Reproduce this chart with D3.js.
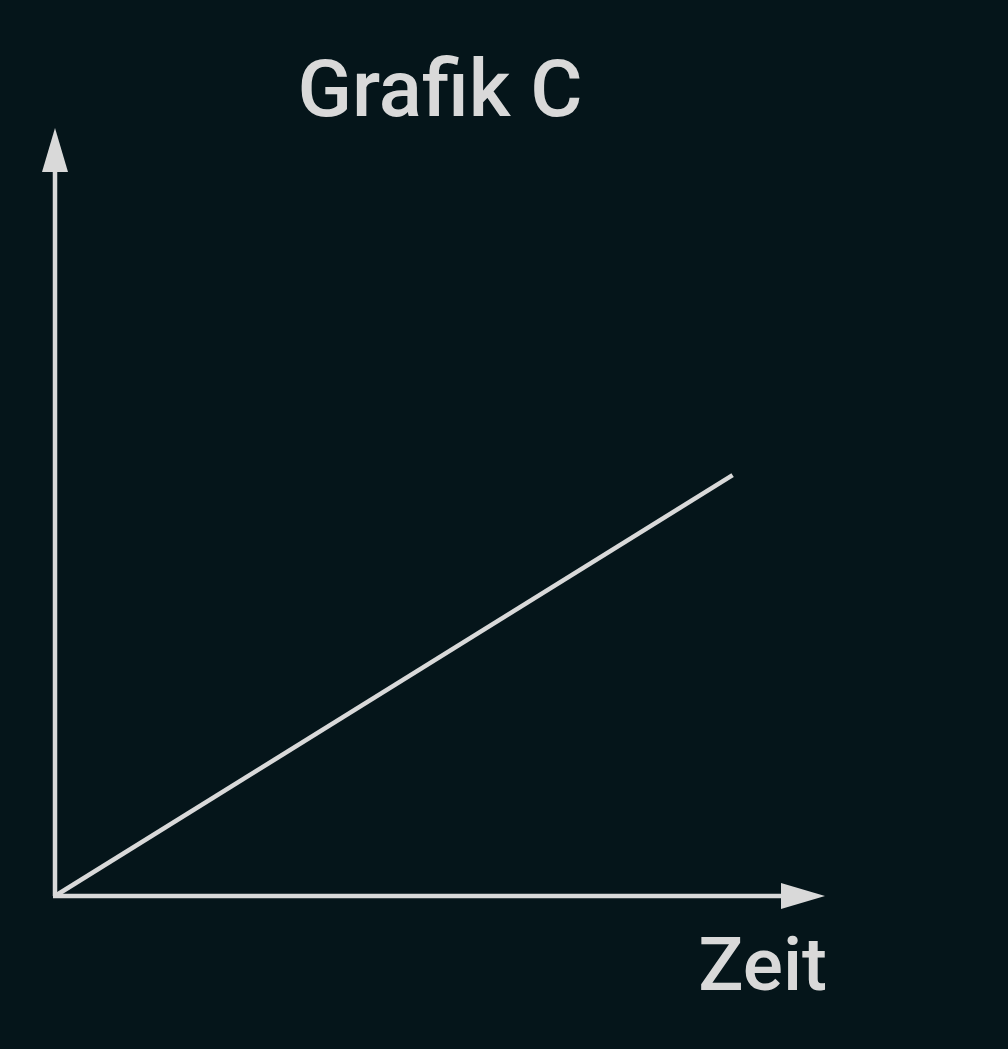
<!DOCTYPE html>
<html>
<head>
<meta charset="utf-8">
<script src="https://cdn.jsdelivr.net/npm/d3@7"></script>
<style>
  html, body { margin: 0; padding: 0; background: #05151a; }
  svg { display: block; }
</style>
</head>
<body>
<div id="chart"></div>
<script>
// data (arbitrary units, no ticks shown)
var timeValues = [0, 8.8];
var seriesValues = [0, 5.48];
var title = "Grafik C";
var xLabel = "Zeit";

var W = 1008, H = 1049;
var ink = "#d9d9d9";

var svg = d3.select("#chart")
    .append("svg")
    .attr("width", W)
    .attr("height", H);

svg.append("rect")
    .attr("width", W)
    .attr("height", H)
    .attr("fill", "#05151a");

// axis extents, arrow tips sit at the domain ends
var x = d3.scaleLinear().domain([0, 10]).range([55, 825]);
var y = d3.scaleLinear().domain([0, 10]).range([896, 128]);

var arrowLen = 44, arrowHalf = 13;

// y axis line + arrow head
svg.append("line")
    .attr("x1", x(0)).attr("y1", y(0))
    .attr("x2", x(0)).attr("y2", y(10) + arrowLen - 2)
    .attr("stroke", ink)
    .attr("stroke-width", 4.5);
svg.append("path")
    .attr("d", d3.line()([
        [x(0), y(10)],
        [x(0) - arrowHalf, y(10) + arrowLen],
        [x(0) + arrowHalf, y(10) + arrowLen]
    ]) + "Z")
    .attr("fill", ink);

// x axis line + arrow head
svg.append("line")
    .attr("x1", x(0) - 2).attr("y1", y(0))
    .attr("x2", x(10) - arrowLen + 2).attr("y2", y(0))
    .attr("stroke", ink)
    .attr("stroke-width", 4.5);
svg.append("path")
    .attr("d", d3.line()([
        [x(10), y(0)],
        [x(10) - arrowLen, y(0) - arrowHalf],
        [x(10) - arrowLen, y(0) + arrowHalf]
    ]) + "Z")
    .attr("fill", ink);

// the series
var pts = timeValues.map(function(t, i){ return [t, seriesValues[i]]; });
svg.append("path")
    .datum(pts)
    .attr("d", d3.line()
        .x(function(d){ return x(d[0]); })
        .y(function(d){ return y(d[1]); }))
    .attr("fill", "none")
    .attr("stroke", ink)
    .attr("stroke-width", 4.5)
    .attr("stroke-linecap", "butt");

// title
svg.append("text")
    .attr("x", 440)
    .attr("y", 116)
    .attr("text-anchor", "middle")
    .attr("font-family", "Roboto")
    .attr("font-weight", 500)
    .attr("font-size", 80)
    .attr("fill", ink)
    .text(title);

// x label
svg.append("text")
    .attr("x", 827)
    .attr("y", 990)
    .attr("text-anchor", "end")
    .attr("font-family", "Roboto")
    .attr("font-weight", 500)
    .attr("font-size", 75)
    .attr("fill", ink)
    .text(xLabel);
</script>
</body>
</html>
